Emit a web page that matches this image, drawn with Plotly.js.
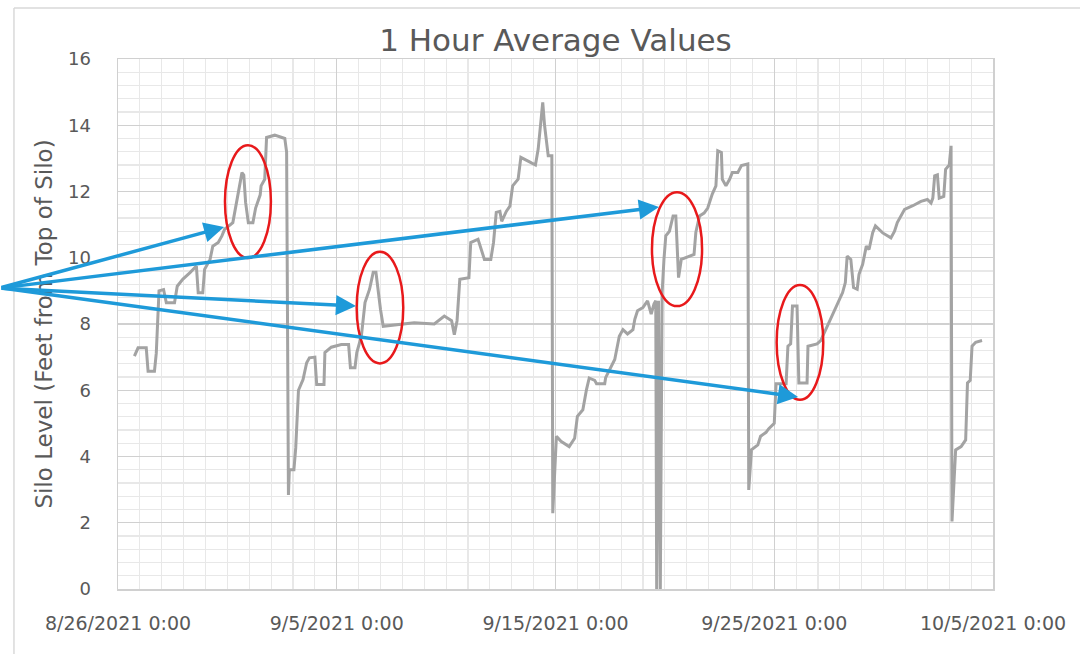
<!DOCTYPE html>
<html>
<head>
<meta charset="utf-8">
<script src="https://cdn.plot.ly/plotly-3.0.1.min.js"></script>
<style>
  html, body { margin: 0; padding: 0; background: #ffffff; }
  #chart { width: 1080px; height: 654px; }
</style>
</head>
<body>
<div id="chart"></div>
<script>
// ---- Data (1 hour average silo level) ----
const times = [
"2021-08-26 18:00","2021-08-26 22:00","2021-08-27 07:00","2021-08-27 09:00","2021-08-27 16:00","2021-08-27 18:00","2021-08-27 21:00",
"2021-08-28 02:00","2021-08-28 05:00","2021-08-28 14:00","2021-08-28 17:00","2021-08-28 23:00","2021-08-29 07:00","2021-08-29 14:00",
"2021-08-29 16:00","2021-08-29 21:00","2021-08-29 23:00","2021-08-30 05:00","2021-08-30 08:00","2021-08-30 14:00","2021-08-30 18:00",
"2021-08-30 21:00","2021-08-31 06:00","2021-08-31 10:00","2021-08-31 16:00","2021-08-31 18:00","2021-08-31 20:00","2021-08-31 23:00",
"2021-09-01 04:00","2021-09-01 07:00","2021-09-01 12:00","2021-09-01 13:00","2021-09-01 17:00","2021-09-01 19:00","2021-09-02 04:00",
"2021-09-02 15:00","2021-09-02 17:00","2021-09-02 19:00","2021-09-02 20:00","2021-09-03 01:00","2021-09-03 03:00","2021-09-03 06:00",
"2021-09-03 11:00","2021-09-03 15:00","2021-09-03 18:00","2021-09-04 00:00","2021-09-04 02:00","2021-09-04 10:00","2021-09-04 11:00",
"2021-09-04 18:00","2021-09-05 05:00","2021-09-05 13:00","2021-09-05 15:00","2021-09-05 20:00","2021-09-05 22:00","2021-09-06 03:00",
"2021-09-06 07:00","2021-09-06 12:00","2021-09-06 16:00","2021-09-06 19:00","2021-09-06 22:00","2021-09-07 00:00","2021-09-07 03:00",
"2021-09-07 23:00","2021-09-08 13:00","2021-09-09 11:00","2021-09-09 22:00","2021-09-10 06:00","2021-09-10 09:00","2021-09-10 12:00",
"2021-09-10 15:00","2021-09-11 01:00","2021-09-11 03:00","2021-09-11 11:00","2021-09-11 18:00","2021-09-12 01:00","2021-09-12 04:00",
"2021-09-12 07:00","2021-09-12 11:00","2021-09-12 13:00","2021-09-12 18:00","2021-09-12 22:00","2021-09-13 01:00","2021-09-13 07:00",
"2021-09-13 10:00","2021-09-13 19:00","2021-09-14 02:00","2021-09-14 05:00","2021-09-14 08:00","2021-09-14 10:00","2021-09-14 12:00",
"2021-09-14 14:00","2021-09-14 16:00","2021-09-14 20:00","2021-09-14 21:00","2021-09-15 01:00","2021-09-15 06:00","2021-09-15 15:00",
"2021-09-15 21:00","2021-09-16 00:00","2021-09-16 06:00","2021-09-16 10:00","2021-09-16 13:00","2021-09-16 19:00","2021-09-16 21:00",
"2021-09-17 06:00","2021-09-17 07:00","2021-09-17 17:00","2021-09-17 22:00","2021-09-18 02:00","2021-09-18 07:00","2021-09-18 13:00",
"2021-09-18 15:00","2021-09-18 18:00","2021-09-19 00:00","2021-09-19 05:00","2021-09-19 09:00","2021-09-19 12:00","2021-09-19 14:00",
"2021-09-19 15:00","2021-09-19 17:00","2021-09-19 19:00","2021-09-19 21:00","2021-09-19 23:00","2021-09-20 01:00","2021-09-20 05:00",
"2021-09-20 09:00","2021-09-20 12:00","2021-09-20 15:00","2021-09-20 18:00","2021-09-21 08:00","2021-09-21 10:00","2021-09-21 14:00",
"2021-09-21 19:00","2021-09-21 23:00","2021-09-22 04:00","2021-09-22 08:00","2021-09-22 10:00","2021-09-22 14:00","2021-09-22 15:00",
"2021-09-22 19:00","2021-09-22 23:00","2021-09-23 02:00","2021-09-23 08:00","2021-09-23 12:00","2021-09-23 19:00","2021-09-23 20:00",
"2021-09-23 23:00","2021-09-24 06:00","2021-09-24 09:00","2021-09-24 15:00","2021-09-24 18:00","2021-09-25 00:00","2021-09-25 02:00",
"2021-09-25 13:00","2021-09-25 15:00","2021-09-25 18:00","2021-09-25 20:00","2021-09-26 01:00","2021-09-26 03:00","2021-09-26 12:00",
"2021-09-26 13:00","2021-09-26 23:00","2021-09-27 03:00","2021-09-27 10:00","2021-09-27 16:00","2021-09-27 23:00","2021-09-28 03:00",
"2021-09-28 06:00","2021-09-28 08:00","2021-09-28 12:00","2021-09-28 15:00","2021-09-28 19:00","2021-09-28 21:00","2021-09-29 01:00",
"2021-09-29 05:00","2021-09-29 08:00","2021-09-29 12:00","2021-09-29 15:00","2021-09-29 23:00","2021-09-30 08:00","2021-09-30 12:00",
"2021-09-30 15:00","2021-09-30 19:00","2021-09-30 23:00","2021-10-01 08:00","2021-10-01 17:00","2021-10-02 00:00","2021-10-02 04:00",
"2021-10-02 06:00","2021-10-02 08:00","2021-10-02 11:00","2021-10-02 13:00","2021-10-02 18:00","2021-10-02 20:00","2021-10-03 00:00",
"2021-10-03 02:00","2021-10-03 03:00","2021-10-03 07:00","2021-10-03 13:00","2021-10-03 18:00","2021-10-03 20:00","2021-10-03 23:00",
"2021-10-04 01:00","2021-10-04 05:00","2021-10-04 12:00"
];
const level = [
7.03,7.28,7.28,6.57,6.57,7.12,9.0,
9.04,8.64,8.64,9.14,9.35,9.55,9.75,
8.94,8.94,9.65,9.95,10.35,10.46,10.66,
10.86,11.06,11.67,12.57,12.5,11.67,11.06,
11.06,11.5,11.9,12.17,12.37,13.63,13.7,
13.6,13.19,2.84,3.6,3.6,4.26,6.0,
6.32,6.83,6.98,7.0,6.17,6.17,7.14,
7.3,7.38,7.38,6.68,6.68,7.14,7.63,
8.65,9.05,9.56,9.56,8.85,8.44,7.93,
8.0,8.04,8.0,8.24,8.1,7.68,8.1,
9.35,9.4,10.46,10.56,9.95,9.95,10.46,
11.37,11.4,11.1,11.4,11.56,12.17,12.37,
13.03,12.9,12.8,13.28,14.19,14.69,14.0,
13.5,13.08,13.08,2.29,4.61,4.46,4.3,
4.55,5.21,5.41,6.02,6.37,6.3,6.2,
6.2,6.38,6.93,7.63,7.83,7.7,7.83,
8.14,8.4,8.5,8.7,8.3,8.6,8.7,
0,8.7,0,8.95,9.95,10.66,10.8,
11.26,11.26,9.4,9.95,10.1,10.77,11.26,
11.35,11.5,11.92,12.17,13.23,13.18,12.37,
12.17,12.37,12.57,12.57,12.78,12.83,2.99,
4.2,4.35,4.61,4.73,4.84,5.0,6.2,
6.2,7.33,7.4,8.54,8.54,6.22,6.22,
7.33,7.4,7.5,7.93,8.3,8.74,8.95,
9.25,10.05,9.95,9.1,9.05,9.5,9.8,
10.35,10.25,10.76,10.96,10.75,10.6,10.8,
11.06,11.26,11.46,11.57,11.7,11.76,11.65,
11.8,12.47,12.5,11.8,11.85,12.67,12.8,
13.38,2.04,4.2,4.3,4.5,6.22,6.3,
7.33,7.45,7.5
];

// Axis ticks
const xTicks = ["2021-08-26","2021-09-05","2021-09-15","2021-09-25","2021-10-05"];
const yTicks = [0, 2, 4, 6, 8, 10, 12, 14, 16];

// Highlight ellipses (day offsets from 8/26 and silo level bounds)
const ellipseDay0 = [4.89, 10.91, 24.41, 30.11];
const ellipseDay1 = [6.99, 13.04, 26.70, 32.24];
const ellipseLo   = [9.99, 6.81, 8.54, 5.71];
const ellipseHi   = [13.40, 10.18, 11.98, 9.18];

// Arrow tips (day offset, level) and tail offsets in pixels
const arrowDay = [4.85, 24.73, 10.88, 31.09];
const arrowLvl = [10.93, 11.53, 8.54, 5.80];
const arrowAx  = [-256, -691, -388, -830];
const arrowAy  = [61, 81, -18, -109];

const base = Date.UTC(2021, 7, 26);
const dayMs = 86400000;
const toDate = d => base + d * dayMs;

const shapes = [];
for (let i = 0; i < ellipseDay0.length; i++) {
  shapes.push({
    type: 'circle', xref: 'x', yref: 'y',
    x0: toDate(ellipseDay0[i]), x1: toDate(ellipseDay1[i]),
    y0: ellipseLo[i], y1: ellipseHi[i],
    line: {color: '#e8191b', width: 2.5}
  });
}
// Chart outer frame (left and top edges)
shapes.push({type: 'line', xref: 'paper', yref: 'paper', x0: -0.1189, x1: -0.1189, y0: 1.0962, y1: -0.2, line: {color: '#d9d9d9', width: 1.5}, layer: 'below'});
shapes.push({type: 'line', xref: 'paper', yref: 'paper', x0: -0.1189, x1: 1.2, y0: 1.0962, y1: 1.0962, line: {color: '#d9d9d9', width: 1.5}, layer: 'below'});

const annotations = [];
for (let i = 0; i < arrowDay.length; i++) {
  annotations.push({
    x: toDate(arrowDay[i]), y: arrowLvl[i], xref: 'x', yref: 'y',
    ax: arrowAx[i], ay: arrowAy[i], axref: 'pixel', ayref: 'pixel',
    text: '', showarrow: true, arrowhead: 2, arrowsize: 1.15, arrowwidth: 3.5,
    arrowcolor: '#1e9ad9', standoff: 0
  });
}

const trace = {
  x: times, y: level, type: 'scatter', mode: 'lines',
  line: {color: '#a3a3a3', width: 3},
  hoverinfo: 'skip'
};

const textColor = '#595959';
const layout = {
  width: 1080, height: 654,
  margin: {l: 118, r: 87, t: 59, b: 65},
  paper_bgcolor: '#ffffff', plot_bgcolor: '#ffffff',
  showlegend: false,
  font: {family: 'DejaVu Sans, Open Sans, sans-serif', color: textColor},
  title: {
    text: '1 Hour Average Values',
    font: {family: 'DejaVu Sans, sans-serif', size: 31, color: textColor},
    x: 0.5, xref: 'paper', xanchor: 'center',
    y: 0.938, yref: 'container', yanchor: 'middle'
  },
  xaxis: {
    type: 'date',
    range: [xTicks[0], xTicks[xTicks.length - 1]],
    tickmode: 'array', tickvals: xTicks,
    tickformat: '%-m/%-d/%Y %-H:%M',
    tickfont: {size: 19, color: textColor},
    ticks: 'outside', ticklen: 17, tickcolor: 'rgba(0,0,0,0)',
    showgrid: true, gridcolor: '#d0d0d0', gridwidth: 1.3,
    minor: {dtick: dayMs, showgrid: true, gridcolor: '#e8e8e8', gridwidth: 1.2, ticks: ''},
    showline: true, linecolor: '#d0d0d0', linewidth: 1.5, mirror: true,
    zeroline: false, fixedrange: true
  },
  yaxis: {
    range: [0, 16],
    tickmode: 'array', tickvals: yTicks,
    tickfont: {size: 18, color: textColor},
    ticks: 'outside', ticklen: 22, tickcolor: 'rgba(0,0,0,0)',
    showgrid: true, gridcolor: '#d0d0d0', gridwidth: 1.3,
    minor: {dtick: 0.4, showgrid: true, gridcolor: '#e8e8e8', gridwidth: 1.2, ticks: ''},
    showline: true, linecolor: '#d0d0d0', linewidth: 1.5, mirror: true,
    zeroline: false, fixedrange: true,
    title: {text: 'Silo Level (Feet from Top of Silo)', font: {size: 23, color: textColor}, standoff: 9}
  },
  shapes: shapes,
  annotations: annotations
};

Plotly.newPlot('chart', [trace], layout, {staticPlot: true, displayModeBar: false});
</script>
</body>
</html>
